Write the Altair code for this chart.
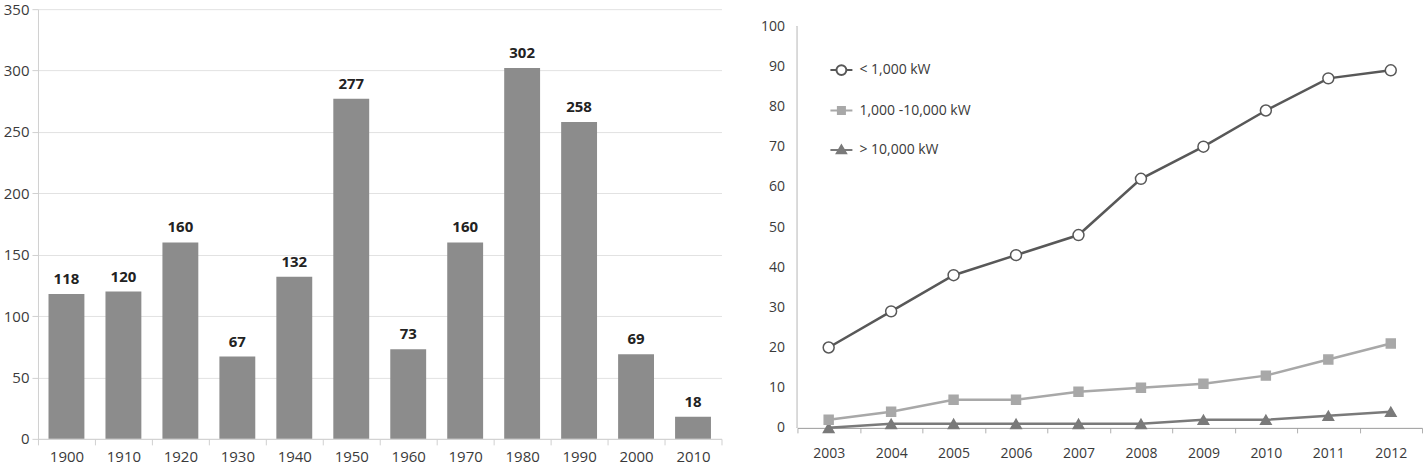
import altair as alt
import pandas as pd

# ---- left panel: counts per decade ----
decades = ["1900", "1910", "1920", "1930", "1940", "1950",
           "1960", "1970", "1980", "1990", "2000", "2010"]
counts = [118, 120, 160, 67, 132, 277, 73, 160, 302, 258, 69, 18]

# ---- right panel: installations by capacity class ----
years = ["2003", "2004", "2005", "2006", "2007",
         "2008", "2009", "2010", "2011", "2012"]
series_names = ["< 1,000 kW", "1,000 -10,000 kW", "> 10,000 kW"]
small = [20, 29, 38, 43, 48, 62, 70, 79, 87, 89]
medium = [2, 4, 7, 7, 9, 10, 11, 13, 17, 21]
large = [0, 1, 1, 1, 1, 1, 2, 2, 3, 4]
y_ticks = [0, 10, 20, 30, 40, 50, 60, 70, 80, 90, 100]
left_ticks = [0, 50, 100, 150, 200, 250, 300, 350]

FONT = "Open Sans"
TEXT = "#3a3a3a"

LEFT_W, RIGHT_W, GAP = 684, 625, 76
LEFT_H, RIGHT_H = 430, 419

bars_df = pd.DataFrame({"decade": decades, "count": counts})
lines_df = pd.DataFrame({
    "year": years * 3,
    "series": [series_names[0]] * len(years) + [series_names[1]] * len(years) + [series_names[2]] * len(years),
    "value": small + medium + large,
})

x_left = alt.X(
    "decade:N", sort=decades, title=None,
    scale=alt.Scale(type="band", paddingInner=0, paddingOuter=0),
    axis=alt.Axis(labelAngle=0, labelFont=FONT, labelFontSize=15, labelColor=TEXT,
                  domainColor="#d0d0d0", tickColor="#d0d0d0", tickSize=6,
                  tickBand="extent", labelPadding=5, grid=False),
)
y_left = alt.Y(
    "count:Q", title=None,
    scale=alt.Scale(domain=[0, 350], nice=False),
    axis=alt.Axis(values=left_ticks, labelFont=FONT, labelFontSize=15, labelColor=TEXT,
                  domainColor="#d0d0d0", tickColor="#d0d0d0", tickSize=6,
                  labelPadding=3, gridColor="#e2e2e2"),
)

bars = alt.Chart(bars_df).mark_bar(
    color="#8c8c8c", width=alt.RelativeBandSize(0.63)
).encode(x=x_left, y=y_left)

bar_labels = alt.Chart(bars_df).mark_text(
    font=FONT, fontSize=15, fontWeight="bold", color="#222222", dy=-15
).encode(x=x_left, y=y_left, text="count:Q")

left = alt.layer(bars, bar_labels).properties(width=LEFT_W, height=LEFT_H)

# right panel: the top of the scale reaches a little above 100 so both panels share a top edge
x_right = alt.X(
    "year:N", sort=years, title=None, bandPosition=0.5,
    scale=alt.Scale(type="band", paddingInner=0, paddingOuter=0),
    axis=alt.Axis(labelAngle=0, labelFont=FONT, labelFontSize=14, labelColor=TEXT,
                  domainColor="#9a9a9a", tickColor="#b0b0b0", tickSize=5,
                  tickBand="extent", labelPadding=14, grid=False),
)
y_right = alt.Y(
    "value:Q", title=None,
    scale=alt.Scale(domain=[0, 104.23], nice=False),
    axis=alt.Axis(values=y_ticks, labelFont=FONT, labelFontSize=14, labelColor=TEXT,
                  domain=False, ticks=False, tickSize=0, labelPadding=13,
                  gridColor="#dcdcdc"),
)

styles = {
    series_names[0]: dict(color="#585858", shape="circle", fill="white", size=120),
    series_names[1]: dict(color="#a8a8a8", shape="square", fill="#a8a8a8", size=80),
    series_names[2]: dict(color="#7a7a7a", shape="triangle-up", fill="#7a7a7a", size=110),
}

y_axis_line = alt.Chart(lines_df).mark_rule(color="#d8d8d8", strokeWidth=1).encode(
    x=alt.value(0), y=alt.datum(0), y2=alt.datum(100)
)

series_layers = []
for name in reversed(series_names):
    st = styles[name]
    base = alt.Chart(lines_df).transform_filter(alt.datum.series == name)
    series_layers.append(
        base.mark_line(color=st["color"], strokeWidth=2.5).encode(x=x_right, y=y_right)
    )
    series_layers.append(
        base.mark_point(shape=st["shape"], filled=True, fill=st["fill"], stroke=st["color"],
                        strokeWidth=1.5, size=st["size"], opacity=1).encode(x=x_right, y=y_right)
    )

# legend symbols: a short line with the series marker on it
legend_paths = [
    "M-1,0H-0.45M0.45,0H1M0.45,0A0.45,0.45 0 1,1 -0.45,0A0.45,0.45 0 1,1 0.45,0Z",
    "M-1,0H1M-0.32,-0.32H0.32V0.32H-0.32Z",
    "M-1,0H1M0,-0.42L0.42,0.3H-0.42Z",
]
# the legend is laid out from the left panel's origin
legend_def = alt.Legend(
    title=None, orient="none", legendX=LEFT_W + GAP + 30, legendY=47,
    labelFont=FONT, labelFontSize=14, labelColor=TEXT, labelOffset=6,
    symbolSize=484, symbolStrokeWidth=2, rowPadding=19.5,
    fillColor="white", padding=2, symbolOpacity=1,
)
legend_layer = alt.Chart(lines_df).mark_point(size=0, filled=True, strokeWidth=2).encode(
    x=x_right, y=y_right,
    shape=alt.Shape("series:N", sort=series_names,
                    scale=alt.Scale(domain=series_names, range=legend_paths), legend=legend_def),
    stroke=alt.Stroke("series:N", sort=series_names,
                      scale=alt.Scale(domain=series_names,
                                      range=[styles[n]["color"] for n in series_names]),
                      legend=legend_def),
    fill=alt.Fill("series:N", sort=series_names,
                  scale=alt.Scale(domain=series_names,
                                  range=[styles[n]["fill"] for n in series_names]),
                  legend=legend_def),
)

right = alt.layer(y_axis_line, *series_layers, legend_layer).properties(width=RIGHT_W, height=RIGHT_H)

chart = alt.hconcat(left, right, spacing=GAP, bounds="flush").properties(
    padding={"left": 3, "top": 2, "right": 5, "bottom": 1}
).configure_view(stroke=None)

chart.save("out.html", embed_options={"renderer": "svg", "actions": False})
